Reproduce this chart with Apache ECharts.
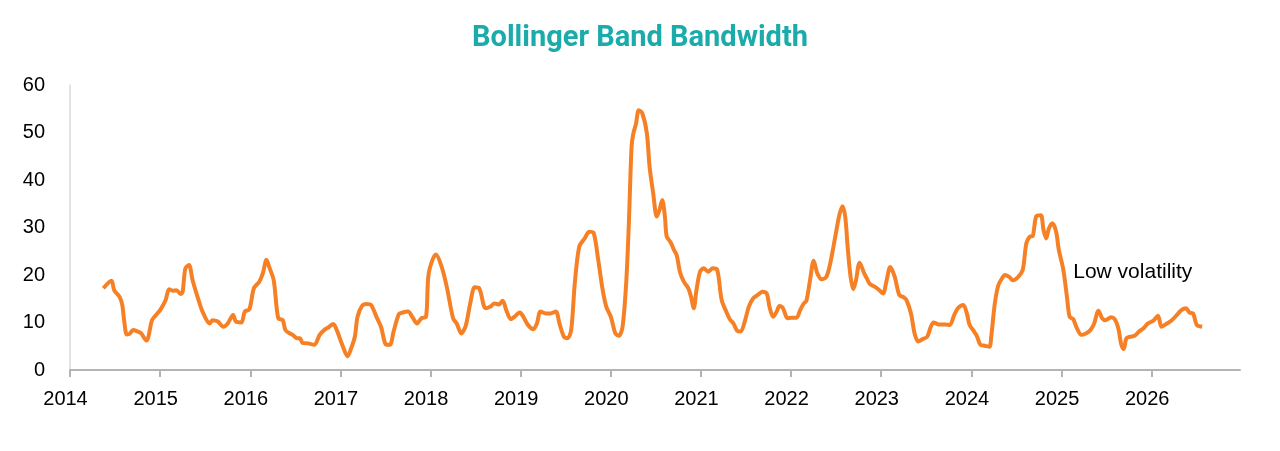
<!DOCTYPE html>
<html>
<head>
<meta charset="utf-8">
<script src="https://cdn.jsdelivr.net/npm/echarts@6/dist/echarts.min.js"></script>
<style>
html,body{margin:0;padding:0;background:#fff;}
#chart{width:1280px;height:451px;}
</style>
</head>
<body>
<div id="chart"></div>
<script>
// Decimal-year dates and Bollinger Band Bandwidth values
const dates = [
2014.37,2014.46,2014.49,2014.55,2014.58,2014.60,2014.63,2014.66,2014.70,2014.75,
2014.79,2014.85,2014.87,2014.91,2014.96,2015.00,2015.06,2015.10,2015.14,2015.18,
2015.23,2015.25,2015.28,2015.32,2015.36,2015.42,2015.47,2015.55,2015.58,2015.64,
2015.70,2015.75,2015.81,2015.84,2015.90,2015.94,2015.99,2016.04,2016.10,2016.14,
2016.18,2016.21,2016.26,2016.31,2016.36,2016.39,2016.44,2016.47,2016.52,2016.55,
2016.58,2016.64,2016.71,2016.77,2016.82,2016.87,2016.92,2016.96,2017.02,2017.08,
2017.12,2017.16,2017.19,2017.24,2017.29,2017.34,2017.40,2017.45,2017.51,2017.55,
2017.59,2017.65,2017.69,2017.75,2017.80,2017.85,2017.90,2017.95,2017.98,2018.06,
2018.12,2018.18,2018.25,2018.29,2018.34,2018.39,2018.44,2018.49,2018.54,2018.61,
2018.66,2018.71,2018.76,2018.80,2018.84,2018.89,2018.93,2018.99,2019.03,2019.08,
2019.14,2019.18,2019.22,2019.28,2019.33,2019.39,2019.43,2019.48,2019.52,2019.56,
2019.60,2019.65,2019.71,2019.76,2019.81,2019.86,2019.91,2019.95,2020.00,2020.02,
2020.05,2020.09,2020.13,2020.17,2020.20,2020.23,2020.25,2020.28,2020.31,2020.35,
2020.40,2020.43,2020.47,2020.51,2020.54,2020.57,2020.60,2020.62,2020.66,2020.70,
2020.73,2020.77,2020.81,2020.86,2020.89,2020.92,2020.95,2020.99,2021.03,2021.08,
2021.13,2021.18,2021.23,2021.28,2021.32,2021.36,2021.40,2021.44,2021.49,2021.53,
2021.58,2021.63,2021.68,2021.73,2021.76,2021.80,2021.84,2021.87,2021.91,2021.96,
2022.00,2022.06,2022.10,2022.14,2022.17,2022.21,2022.25,2022.29,2022.34,2022.39,
2022.43,2022.47,2022.51,2022.54,2022.57,2022.60,2022.63,2022.66,2022.69,2022.72,
2022.76,2022.81,2022.84,2022.87,2022.93,2022.98,2023.02,2023.06,2023.10,2023.15,
2023.20,2023.25,2023.28,2023.33,2023.37,2023.41,2023.46,2023.51,2023.55,2023.58,
2023.64,2023.71,2023.76,2023.81,2023.85,2023.91,2023.95,2023.98,2024.03,2024.06,
2024.10,2024.15,2024.20,2024.22,2024.26,2024.30,2024.35,2024.37,2024.42,2024.46,
2024.52,2024.57,2024.61,2024.65,2024.68,2024.72,2024.77,2024.80,2024.83,2024.86,
2024.90,2024.94,2024.97,2025.02,2025.06,2025.09,2025.13,2025.17,2025.22,2025.27,
2025.32,2025.36,2025.41,2025.45,2025.49,2025.55,2025.59,2025.63,2025.66,2025.69,
2025.72,2025.76,2025.81,2025.86,2025.91,2025.96,2026.02,2026.07,2026.11,2026.17,
2026.22,2026.28,2026.33,2026.38,2026.42,2026.46,2026.50,2026.56
];
const bandwidth = [
17.2,18.8,16.8,15.4,13.7,10.5,7.5,7.6,8.4,8.1,
7.7,6.2,7.0,10.5,11.7,12.6,14.7,17.0,16.7,16.8,
16.0,16.5,21.4,22.1,18.9,15.1,12.3,9.8,10.5,10.2,
9.1,9.8,11.6,10.2,10.0,12.3,12.8,17.2,18.6,20.4,
23.2,21.7,18.9,10.9,10.5,8.4,7.7,7.4,6.7,6.7,
5.7,5.6,5.3,7.4,8.4,9.0,9.7,8.4,5.3,2.9,
4.6,7.0,11.2,13.5,13.9,13.7,11.2,9.1,5.3,5.3,
8.1,11.8,12.1,12.3,11.1,9.8,10.9,11.2,20.4,24.3,
21.9,17.5,10.9,9.8,7.7,9.3,14.0,17.4,17.2,13.0,
13.3,14.0,13.8,14.6,12.6,10.7,11.2,12.1,11.2,9.5,
8.6,9.8,12.3,11.9,11.9,12.3,9.8,7.0,6.7,8.4,
18.2,26.0,27.7,29.1,28.8,23.2,16.8,13.3,11.2,9.8,
7.7,7.2,9.1,18.2,30.9,47.0,49.8,51.9,54.7,54.0,
49.8,42.8,37.2,32.3,33.7,35.8,32.3,28.1,27.0,25.3,
24.2,20.4,18.6,17.2,15.4,13.0,16.8,20.7,21.4,20.7,
21.4,21.1,14.7,12.3,10.7,9.8,8.3,8.1,10.5,13.3,
15.1,15.8,16.5,16.1,13.3,11.2,12.3,13.5,13.0,10.9,
11.0,11.0,12.6,14.0,14.6,18.9,23.0,20.4,19.1,19.6,
22.1,26.0,30.2,33.0,34.5,32.3,25.3,19.6,17.0,18.9,
22.6,20.4,19.3,18.2,17.5,16.8,16.1,18.9,21.7,19.6,
15.8,15.3,14.7,11.9,7.7,6.0,6.5,7.0,9.1,10.0,
9.6,9.6,9.5,11.6,13.0,13.7,11.9,9.5,8.1,7.2,
5.3,5.1,4.9,7.0,14.0,17.9,19.6,20.0,19.6,18.9,
19.6,21.1,26.7,28.1,28.2,32.4,32.6,29.5,27.7,29.8,
30.9,29.1,25.3,21.1,15.4,11.2,10.7,8.8,7.4,7.7,
8.4,9.7,12.5,10.9,10.5,11.1,10.7,8.8,5.6,4.4,
6.7,7.0,7.2,8.1,8.8,9.8,10.4,11.4,9.1,9.8,
10.4,11.6,12.6,13.0,12.1,11.9,9.5,9.1
];
const yTicks = [0, 10, 20, 30, 40, 50, 60];
const xYearMin = 2014, xYearMax = 2026.98;
const titleText = 'Bollinger Band Bandwidth';
const annotation = 'Low volatility';

const seriesData = dates.map((d, i) => [d, bandwidth[i]]);

const chart = echarts.init(document.getElementById('chart'), null, {renderer: 'canvas'});
chart.setOption({
  animation: false,
  backgroundColor: '#ffffff',
  title: {
    text: titleText,
    left: 'center',
    top: 19,
    textStyle: {
      color: '#1AABAA',
      fontFamily: '"Liberation Sans Narrow", "Roboto", sans-serif',
      fontWeight: 'bold',
      fontSize: 29
    }
  },
  grid: {left: 70, right: 40, top: 85, bottom: 81, containLabel: false},
  xAxis: {
    type: 'value',
    min: xYearMin,
    max: xYearMax,
    interval: 1,
    axisLine: {show: true, lineStyle: {color: '#b4b4b4', width: 2}},
    axisTick: {show: true, length: 7, lineStyle: {color: '#b4b4b4', width: 2}},
    splitLine: {show: false},
    axisLabel: {
      color: '#000',
      fontSize: 20,
      fontFamily: '"Liberation Sans", Arial, sans-serif',
      margin: 19,
      padding: [0, 9, 0, 0],
      showMaxLabel: false,
      formatter: v => String(Math.round(v))
    }
  },
  yAxis: {
    type: 'value',
    min: yTicks[0],
    max: yTicks[yTicks.length - 1],
    interval: 10,
    axisLine: {show: true, lineStyle: {color: '#dadada', width: 1.5}},
    axisTick: {show: false},
    splitLine: {show: false},
    axisLabel: {
      color: '#000',
      fontSize: 20,
      fontFamily: '"Liberation Sans", Arial, sans-serif',
      margin: 25
    }
  },
  series: [{
    type: 'line',
    data: seriesData,
    showSymbol: false,
    smooth: 0.3,
    lineStyle: {color: '#F58025', width: 4},
    itemStyle: {color: '#F58025'},
    markPoint: {
      symbol: 'circle',
      symbolSize: 0,
      data: [{coord: [2025.13, 20.5], value: annotation}],
      label: {
        show: true,
        position: 'right',
        distance: 0,
        formatter: annotation,
        color: '#000',
        fontSize: 21,
        fontFamily: '"Liberation Sans", Arial, sans-serif'
      }
    }
  }]
});
</script>
</body>
</html>
